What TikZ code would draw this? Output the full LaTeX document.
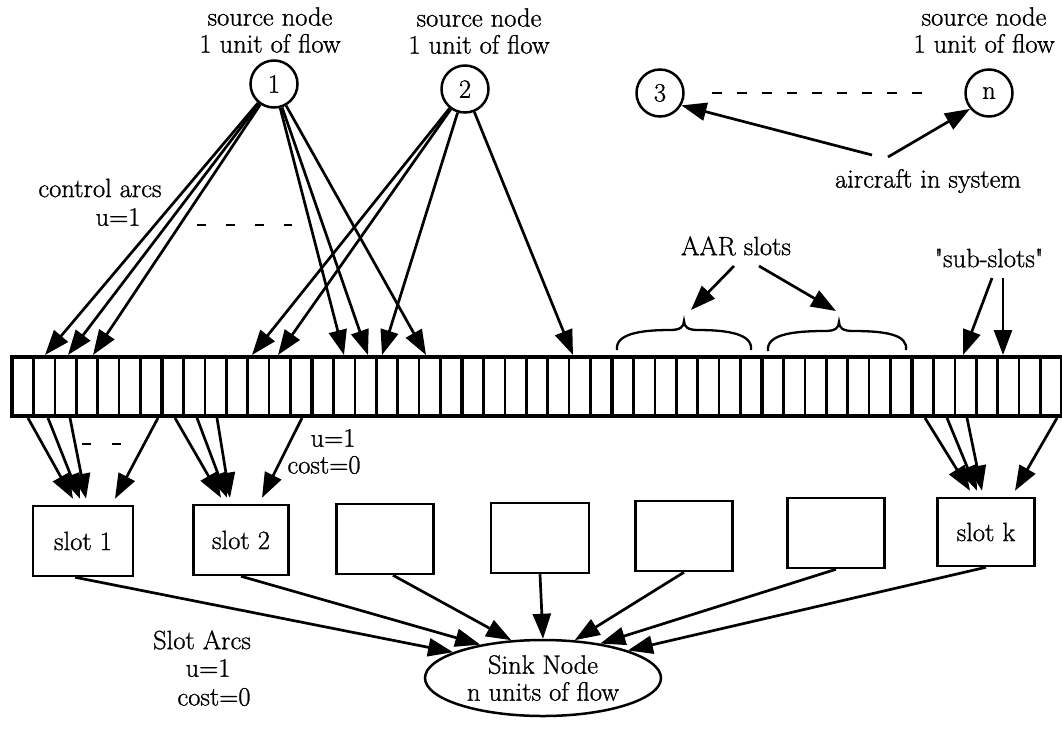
\documentclass[tikz,border=0pt]{standalone}
\usepackage{fontspec}
\setmainfont{Latin Modern Roman}[FakeBold=1.0]
\usetikzlibrary{arrows.meta,shapes.geometric}
\begin{document}
\begin{tikzpicture}[x=1pt,y=-1pt,
  every node/.style={font=\fontsize{26.5}{27}\selectfont, inner sep=0pt},
  arc/.style={line width=2.7pt, -{Triangle[length=25pt,width=18pt]}},
  src/.style={circle, draw, line width=2.5pt, minimum size=47pt},
  slotbox/.style={draw, line width=2.5pt, minimum height=70pt},
  dashline/.style={line width=2.6pt, dash pattern=on 9pt off 20pt},
  bracepath/.style={line width=2.3pt},
  lbl/.style={align=center}
]
\useasboundingbox (0,0) rectangle (1062,742);

% source nodes
\node[src] (n1) at (274,84) {1};
\node[src] (n2) at (465,89) {2};
\node[src] (n3) at (660,93) {3};
\node[src] (nn) at (989,93) {n};
\node[lbl] (l1) at (270,30) {source node\\1 unit of flow};
\node[lbl] (l2) at (479,31) {source node\\1 unit of flow};
\node[lbl] (ln) at (984,30) {source node\\1 unit of flow};
\draw[line width=2.6pt, dash pattern=on 10pt off 15pt] ([xshift=27pt]n3.east) -- ([xshift=-40pt]nn.west);

% aircraft in system
\node (air) at (928,181) {aircraft in system};
\coordinate (ac1) at (872,155);
\coordinate (ac2) at (888,157);
\draw[arc] (ac1) -- (n3.-30);
\draw[arc] (ac2) -- (nn.-140);

% control arcs label
\node (ca) at (100,188) {control arcs};
\node (cu) at (118,217) {u=1};
\draw[dashline] (197,225) -- (292,225);

% the slot bar
\draw[line width=4.5pt] (12,357) rectangle (1062,416);
\foreach \i in {1,...,48}{
  \pgfmathsetmacro\xx{12+\i*150/7}
  \pgfmathtruncatemacro\m{mod(\i,7)}
  \ifnum\m=0
    \draw[line width=4.8pt] (\xx,357) -- (\xx,416);
  \else
    \draw[line width=2.6pt] (\xx,357) -- (\xx,416);
  \fi
}

% targets on the bar top
\foreach \n/\x in {t1a/45,t1b/68,t1c/93,t1d/344,t1e/368,t1f/426,t2a/252,t2b/278,t2c/382,t2d/573}{
  \coordinate (\n) at (\x,355);
}
\foreach \t in {t1a,t1b,t1c,t1d,t1e,t1f}{ \draw[arc] (n1) -- (\t); }
\foreach \t in {t2a,t2b,t2c,t2d}{ \draw[arc] (n2) -- (\t); }

% AAR slots
\node (aar) at (736,246) {AAR slots};
\draw[bracepath] (617,350) .. controls (615,334) and (640,330) .. (670,330) .. controls (680,330) and (684,327) .. (684,321)
                 .. controls (684,327) and (688,330) .. (698,330) .. controls (728,330) and (753,334) .. (751,350);
\draw[bracepath] (768,351) .. controls (766,335) and (791,331) .. (825,331) .. controls (835,331) and (839,328) .. (839,322)
                 .. controls (839,328) and (843,331) .. (853,331) .. controls (887,331) and (908,335) .. (906,350);
\coordinate (aa1) at (734,266);
\coordinate (aa2) at (759,266);
\coordinate (br1) at (691,310);
\coordinate (br2) at (836,311);
\draw[arc] (aa1) -- (br1);
\draw[arc] (aa2) -- (br2);

% sub-slots
\node (sub) at (989,258) {\textquotedbl sub-slots\textquotedbl};
\coordinate (ss1) at (992,278);
\coordinate (ss2) at (1003,278);
\coordinate (st1) at (963,355);
\coordinate (st2) at (1003,355);
\draw[arc] (ss1) -- (st1);
\draw[arc] (ss2) -- (st2);

% slot boxes
\node[slotbox, minimum width=100pt] (s1) at (83,541) {slot 1};
\node[slotbox, minimum width=95pt] (s2) at (241,540) {slot 2};
\node[slotbox, minimum width=97pt] (s3) at (385,539) {};
\node[slotbox, minimum width=98pt] (s4) at (540,538) {};
\node[slotbox, minimum width=97pt] (s5) at (684,536) {};
\node[slotbox, minimum width=97pt] (s6) at (836,533) {};
\node[slotbox, minimum width=97pt, minimum height=68pt] (sk) at (986,532) {slot k};

% arcs from the bar to the slot boxes
\foreach \x/\d in {28/-10,48/-3,70/3,158/32}{
  \coordinate (b) at (\x,418);
  \draw[arc] (b) -- ([xshift=\d pt,yshift=6pt]s1.north);
}
\foreach \x/\d in {175/-20,197/-14,217/-11,302/21}{
  \coordinate (b) at (\x,418);
  \draw[arc] (b) -- ([xshift=\d pt,yshift=6pt]s2.north);
}
\foreach \x/\d in {925/-16,947/-9,967/-4,1057/29}{
  \coordinate (b) at (\x,418);
  \draw[arc] (b) -- ([xshift=\d pt,yshift=6pt]sk.north);
}
\draw[line width=2.6pt, dash pattern=on 9pt off 21pt] (82,444) -- (121,444);
\node (u2) at (333,438) {u=1};
\node (c2) at (324,465) {cost=0};

% sink
\node[ellipse, draw, line width=2.5pt, minimum width=236pt, minimum height=76pt, align=center] (sink) at (543,678) {Sink Node\\n units of flow};
\draw[arc] ([xshift=-8pt]s1.south) -- (sink.164);
\draw[arc] (s2.south) -- (sink.152);
\draw[arc] ([xshift=8pt]s3.south) -- (sink.130);
\draw[arc] (s4.south) -- (sink.90);
\draw[arc] (s5.south) -- (sink.50);
\draw[arc] (s6.south) -- (sink.31);
\draw[arc] (sk.south) -- (sink.18);

\node (sa) at (202,640) {Slot Arcs};
\node (sa2) at (208,668) {u=1};
\node (sa3) at (214,697) {cost=0};
\end{tikzpicture}
\end{document}
